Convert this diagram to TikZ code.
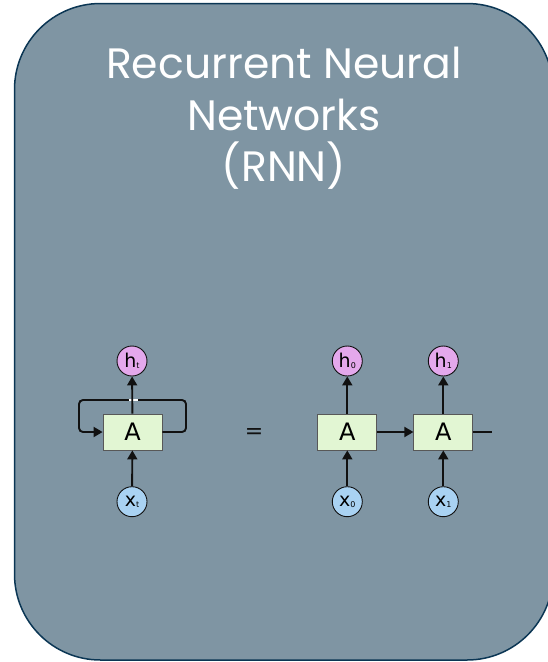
\documentclass[tikz,border=0pt]{standalone}
\usepackage{fontspec}
\setmainfont{DejaVu Sans}
\newfontfamily\titlefont{Poppins}
\usetikzlibrary{positioning,arrows.meta}
\definecolor{panel}{HTML}{7F95A3}
\definecolor{rim}{HTML}{0B3654}
\definecolor{cell}{HTML}{E2F6D3}
\definecolor{hid}{HTML}{E4A8EC}
\definecolor{inp}{HTML}{A9D2F2}
\definecolor{ink}{HTML}{111111}

\begin{document}
\begin{tikzpicture}[x=1pt,y=-1pt,
  arr/.style={-{Triangle[length=9pt,width=10pt]},line width=1.9pt,ink},
  cellbox/.style={draw=ink!70,line width=0.8pt,fill=cell,minimum width=59pt,minimum height=36pt,inner sep=0pt,font=\fontsize{24}{24}\selectfont},
  hnode/.style={circle,draw=ink,line width=0.9pt,fill=hid,minimum size=30pt,inner sep=0pt,font=\fontsize{19}{19}\selectfont},
  xnode/.style={hnode,fill=inp}]
\useasboundingbox (0,0) rectangle (547,662);
% panel
\draw[rim,line width=1.5pt,fill=panel,rounded corners=86pt] (14.5,3.5) rectangle (553,660);
\node[white,align=center,font=\titlefont\fontsize{42.5}{51.5}\selectfont,anchor=base] (title) at (284,181.7)
  {Recurrent Neural\\Networks\\(RNN)};
% folded network
\node[cellbox] (cellA) at (132.5,432) {A};
\node[hnode] (ht) at (132,361) {h\raisebox{-1pt}{\fontsize{8}{8}\selectfont t}};
\node[xnode] (xt) at (132,501.7) {x\raisebox{-1pt}{\fontsize{8}{8}\selectfont t}};
\coordinate (loopR) at (186,400);
\coordinate (loopL) at (79,400);
\draw[arr,rounded corners=4pt] (cellA.east) -| (loopR) -- (loopL) |- (cellA.west);
\draw[white,line width=2.2pt] (128.5,400) -- (137.5,400);
\draw[arr] (cellA) -- (ht);
\draw[arr] (xt) -- (cellA);
\node[font=\fontsize{22}{22}\selectfont,ink] (eq) at (254,433) {=};
% unrolled network
\foreach \i/\px in {0/347.3,1/443.3}{
  \node[cellbox] (cell\i) at (\px,432) {A};
  \node[hnode] (h\i) at (\px,361) {h\raisebox{-1pt}{\fontsize{8}{8}\selectfont\i}};
  \node[xnode] (x\i) at (\px,501.7) {x\raisebox{-1pt}{\fontsize{8}{8}\selectfont\i}};
  \draw[arr] (cell\i) -- (h\i);
  \draw[arr] (x\i) -- (cell\i);
}
\coordinate (tail) at (491.7,432);
\draw[arr] (cell0) -- (cell1);
\draw[line width=1.9pt,ink] (cell1.east) -- (tail);
\end{tikzpicture}
\end{document}
